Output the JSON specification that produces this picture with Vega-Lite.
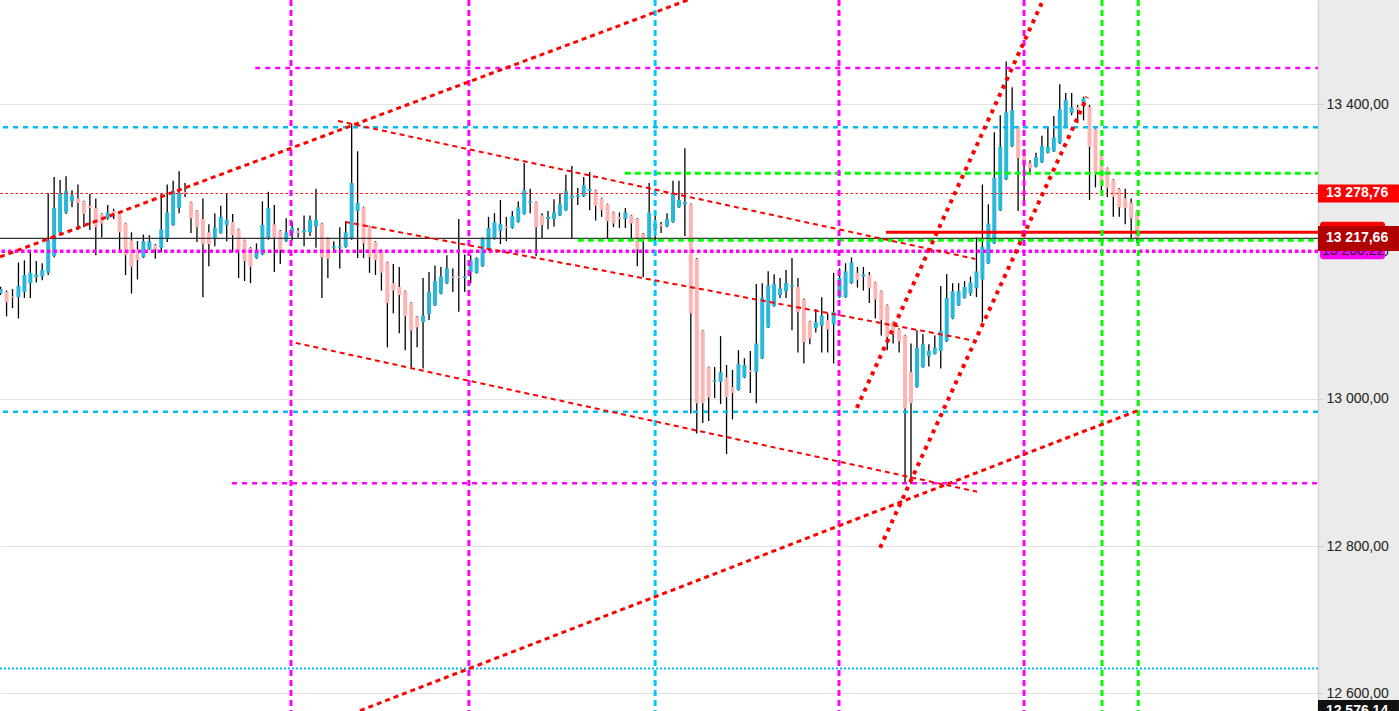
{
"$schema": "https://vega.github.io/schema/vega-lite/v6.json",
"width": 1318, "height": 711,
"autosize": {"type": "none"},
"padding": {"left": 0, "top": 0, "right": 81, "bottom": 0},
"background": "#ebebeb",
"config": {
 "view": {"stroke": null, "fill": "#ffffff"},
 "locale": {"number": {"decimal": ",", "thousands": " ", "grouping": [3], "currency": ["", ""]}},
 "axisY": {"grid": true, "gridColor": "#e2e2e2", "domainColor": "#d4d4d4", "domainWidth": 1.5, "tickColor": "#cfcfcf", "tickSize": 5,
           "labelFont": "Liberation Sans", "labelFontSize": 14, "labelColor": "#222222", "labelPadding": 3}
},
"datasets": {
"candles": [
{"i":0,"o":13143,"h":13152,"l":13141,"c":13149},
{"i":1,"o":13145,"h":13147,"l":13112,"c":13131},
{"i":2,"o":13139,"h":13149,"l":13123,"c":13137},
{"i":3,"o":13138,"h":13185,"l":13109,"c":13153},
{"i":4,"o":13145,"h":13188,"l":13137,"c":13168},
{"i":5,"o":13157,"h":13198,"l":13137,"c":13171},
{"i":6,"o":13165,"h":13187,"l":13158,"c":13169},
{"i":7,"o":13166,"h":13184,"l":13161,"c":13175},
{"i":8,"o":13171,"h":13279,"l":13168,"c":13215},
{"i":9,"o":13194,"h":13301,"l":13192,"c":13259},
{"i":10,"o":13226,"h":13297,"l":13224,"c":13279},
{"i":11,"o":13253,"h":13302,"l":13251,"c":13282},
{"i":12,"o":13268,"h":13283,"l":13260,"c":13276},
{"i":13,"o":13272,"h":13291,"l":13229,"c":13266},
{"i":14,"o":13268,"h":13269,"l":13233,"c":13251},
{"i":15,"o":13262,"h":13278,"l":13229,"c":13259},
{"i":16,"o":13259,"h":13272,"l":13195,"c":13233},
{"i":17,"o":13251,"h":13252,"l":13219,"c":13238},
{"i":18,"o":13245,"h":13263,"l":13243,"c":13253},
{"i":19,"o":13255,"h":13258,"l":13244,"c":13252},
{"i":20,"o":13252,"h":13253,"l":13202,"c":13226},
{"i":21,"o":13238,"h":13239,"l":13168,"c":13195},
{"i":22,"o":13215,"h":13226,"l":13143,"c":13179},
{"i":23,"o":13203,"h":13214,"l":13162,"c":13188},
{"i":24,"o":13192,"h":13223,"l":13191,"c":13214},
{"i":25,"o":13203,"h":13222,"l":13202,"c":13214},
{"i":26,"o":13209,"h":13210,"l":13190,"c":13203},
{"i":27,"o":13205,"h":13279,"l":13199,"c":13230},
{"i":28,"o":13218,"h":13291,"l":13213,"c":13253},
{"i":29,"o":13236,"h":13296,"l":13235,"c":13282},
{"i":30,"o":13259,"h":13309,"l":13252,"c":13279},
{"i":31,"o":13281,"h":13293,"l":13274,"c":13278},
{"i":32,"o":13267,"h":13268,"l":13225,"c":13245},
{"i":33,"o":13255,"h":13256,"l":13213,"c":13233},
{"i":34,"o":13244,"h":13272,"l":13138,"c":13210},
{"i":35,"o":13226,"h":13237,"l":13180,"c":13210},
{"i":36,"o":13217,"h":13252,"l":13207,"c":13232},
{"i":37,"o":13225,"h":13262,"l":13224,"c":13247},
{"i":38,"o":13236,"h":13279,"l":13214,"c":13243},
{"i":39,"o":13240,"h":13251,"l":13199,"c":13222},
{"i":40,"o":13230,"h":13231,"l":13164,"c":13202},
{"i":41,"o":13215,"h":13216,"l":13160,"c":13187},
{"i":42,"o":13205,"h":13206,"l":13157,"c":13179},
{"i":43,"o":13191,"h":13211,"l":13190,"c":13200},
{"i":44,"o":13196,"h":13268,"l":13195,"c":13236},
{"i":45,"o":13217,"h":13281,"l":13216,"c":13259},
{"i":46,"o":13237,"h":13263,"l":13172,"c":13219},
{"i":47,"o":13228,"h":13229,"l":13183,"c":13202},
{"i":48,"o":13214,"h":13245,"l":13213,"c":13226},
{"i":49,"o":13225,"h":13240,"l":13215,"c":13232},
{"i":50,"o":13228,"h":13232,"l":13219,"c":13225},
{"i":51,"o":13226,"h":13249,"l":13207,"c":13229},
{"i":52,"o":13226,"h":13249,"l":13221,"c":13243},
{"i":53,"o":13234,"h":13285,"l":13205,"c":13243},
{"i":54,"o":13238,"h":13239,"l":13137,"c":13192},
{"i":55,"o":13217,"h":13219,"l":13164,"c":13190},
{"i":56,"o":13205,"h":13214,"l":13198,"c":13207},
{"i":57,"o":13205,"h":13233,"l":13177,"c":13207},
{"i":58,"o":13206,"h":13241,"l":13205,"c":13226},
{"i":59,"o":13217,"h":13373,"l":13216,"c":13293},
{"i":60,"o":13255,"h":13336,"l":13191,"c":13266},
{"i":61,"o":13260,"h":13261,"l":13191,"c":13211},
{"i":62,"o":13234,"h":13235,"l":13171,"c":13192},
{"i":63,"o":13213,"h":13214,"l":13168,"c":13188},
{"i":64,"o":13202,"h":13203,"l":13147,"c":13171},
{"i":65,"o":13185,"h":13186,"l":13070,"c":13130},
{"i":66,"o":13157,"h":13183,"l":13116,"c":13147},
{"i":67,"o":13152,"h":13179,"l":13089,"c":13141},
{"i":68,"o":13146,"h":13147,"l":13066,"c":13112},
{"i":69,"o":13130,"h":13131,"l":13043,"c":13093},
{"i":70,"o":13111,"h":13112,"l":13070,"c":13097},
{"i":71,"o":13104,"h":13164,"l":13041,"c":13113},
{"i":72,"o":13115,"h":13172,"l":13107,"c":13145},
{"i":73,"o":13127,"h":13181,"l":13126,"c":13160},
{"i":74,"o":13143,"h":13179,"l":13142,"c":13166},
{"i":75,"o":13157,"h":13195,"l":13156,"c":13177},
{"i":76,"o":13166,"h":13177,"l":13145,"c":13164},
{"i":77,"o":13166,"h":13244,"l":13118,"c":13164},
{"i":78,"o":13164,"h":13196,"l":13145,"c":13166},
{"i":79,"o":13172,"h":13195,"l":13157,"c":13188},
{"i":80,"o":13171,"h":13192,"l":13170,"c":13191},
{"i":81,"o":13180,"h":13219,"l":13179,"c":13217},
{"i":82,"o":13202,"h":13247,"l":13201,"c":13232},
{"i":83,"o":13217,"h":13252,"l":13216,"c":13240},
{"i":84,"o":13228,"h":13270,"l":13210,"c":13237},
{"i":85,"o":13234,"h":13247,"l":13214,"c":13232},
{"i":86,"o":13232,"h":13255,"l":13231,"c":13248},
{"i":87,"o":13240,"h":13268,"l":13239,"c":13260},
{"i":88,"o":13251,"h":13320,"l":13250,"c":13283},
{"i":89,"o":13266,"h":13285,"l":13252,"c":13268},
{"i":90,"o":13267,"h":13268,"l":13194,"c":13233},
{"i":91,"o":13249,"h":13252,"l":13217,"c":13236},
{"i":92,"o":13244,"h":13255,"l":13230,"c":13247},
{"i":93,"o":13244,"h":13271,"l":13234,"c":13253},
{"i":94,"o":13249,"h":13279,"l":13248,"c":13264},
{"i":95,"o":13256,"h":13304,"l":13255,"c":13282},
{"i":96,"o":13272,"h":13316,"l":13218,"c":13276},
{"i":97,"o":13274,"h":13286,"l":13263,"c":13276},
{"i":98,"o":13275,"h":13301,"l":13274,"c":13290},
{"i":99,"o":13282,"h":13308,"l":13256,"c":13285},
{"i":100,"o":13283,"h":13284,"l":13242,"c":13262},
{"i":101,"o":13272,"h":13273,"l":13247,"c":13256},
{"i":102,"o":13264,"h":13265,"l":13217,"c":13241},
{"i":103,"o":13253,"h":13254,"l":13233,"c":13238},
{"i":104,"o":13247,"h":13253,"l":13232,"c":13244},
{"i":105,"o":13244,"h":13259,"l":13232,"c":13253},
{"i":106,"o":13249,"h":13250,"l":13218,"c":13238},
{"i":107,"o":13244,"h":13245,"l":13180,"c":13203},
{"i":108,"o":13224,"h":13225,"l":13165,"c":13215},
{"i":109,"o":13218,"h":13293,"l":13217,"c":13253},
{"i":110,"o":13230,"h":13252,"l":13215,"c":13238},
{"i":111,"o":13237,"h":13240,"l":13225,"c":13234},
{"i":112,"o":13234,"h":13252,"l":13233,"c":13244},
{"i":113,"o":13240,"h":13296,"l":13239,"c":13279},
{"i":114,"o":13260,"h":13296,"l":13259,"c":13270},
{"i":115,"o":13264,"h":13340,"l":13221,"c":13267},
{"i":116,"o":13264,"h":13265,"l":12980,"c":13116},
{"i":117,"o":13190,"h":13191,"l":12953,"c":12994},
{"i":118,"o":13092,"h":13093,"l":12967,"c":12994},
{"i":119,"o":13043,"h":13044,"l":12970,"c":13002},
{"i":120,"o":13023,"h":13043,"l":13001,"c":13025},
{"i":121,"o":13023,"h":13085,"l":12993,"c":13036},
{"i":122,"o":13029,"h":13046,"l":12925,"c":13002},
{"i":123,"o":13016,"h":13039,"l":12972,"c":13008},
{"i":124,"o":13012,"h":13066,"l":13011,"c":13047},
{"i":125,"o":13029,"h":13055,"l":13028,"c":13046},
{"i":126,"o":13039,"h":13065,"l":13008,"c":13036},
{"i":127,"o":13036,"h":13156,"l":12994,"c":13075},
{"i":128,"o":13055,"h":13157,"l":13054,"c":13137},
{"i":129,"o":13097,"h":13173,"l":13096,"c":13154},
{"i":130,"o":13126,"h":13169,"l":13125,"c":13156},
{"i":131,"o":13141,"h":13164,"l":13137,"c":13150},
{"i":132,"o":13146,"h":13175,"l":13137,"c":13157},
{"i":133,"o":13152,"h":13191,"l":13093,"c":13154},
{"i":134,"o":13152,"h":13164,"l":13063,"c":13118},
{"i":135,"o":13135,"h":13136,"l":13048,"c":13077},
{"i":136,"o":13105,"h":13106,"l":13074,"c":13082},
{"i":137,"o":13096,"h":13122,"l":13090,"c":13104},
{"i":138,"o":13099,"h":13138,"l":13063,"c":13113},
{"i":139,"o":13107,"h":13116,"l":13063,"c":13094},
{"i":140,"o":13101,"h":13171,"l":13048,"c":13118},
{"i":141,"o":13138,"h":13177,"l":13137,"c":13164},
{"i":142,"o":13138,"h":13184,"l":13137,"c":13173},
{"i":143,"o":13157,"h":13192,"l":13156,"c":13185},
{"i":144,"o":13171,"h":13179,"l":13151,"c":13161},
{"i":145,"o":13166,"h":13179,"l":13147,"c":13169},
{"i":146,"o":13168,"h":13172,"l":13130,"c":13150},
{"i":147,"o":13158,"h":13159,"l":13109,"c":13135},
{"i":148,"o":13146,"h":13147,"l":13086,"c":13107},
{"i":149,"o":13127,"h":13128,"l":13066,"c":13084},
{"i":150,"o":13104,"h":13105,"l":13075,"c":13088},
{"i":151,"o":13095,"h":13096,"l":13063,"c":13078},
{"i":152,"o":13086,"h":13087,"l":12884,"c":12987},
{"i":153,"o":13036,"h":13075,"l":12884,"c":12994},
{"i":154,"o":13016,"h":13093,"l":13015,"c":13069},
{"i":155,"o":13043,"h":13088,"l":13042,"c":13074},
{"i":156,"o":13058,"h":13074,"l":13044,"c":13065},
{"i":157,"o":13061,"h":13086,"l":13060,"c":13069},
{"i":158,"o":13065,"h":13153,"l":13041,"c":13092},
{"i":159,"o":13078,"h":13169,"l":13077,"c":13137},
{"i":160,"o":13109,"h":13157,"l":13108,"c":13146},
{"i":161,"o":13127,"h":13157,"l":13126,"c":13146},
{"i":162,"o":13137,"h":13160,"l":13136,"c":13152},
{"i":163,"o":13143,"h":13166,"l":13140,"c":13158},
{"i":164,"o":13150,"h":13219,"l":13138,"c":13173},
{"i":165,"o":13162,"h":13291,"l":13104,"c":13206},
{"i":166,"o":13184,"h":13264,"l":13183,"c":13238},
{"i":167,"o":13211,"h":13362,"l":13210,"c":13300},
{"i":168,"o":13256,"h":13385,"l":13255,"c":13342},
{"i":169,"o":13298,"h":13458,"l":13297,"c":13389},
{"i":170,"o":13343,"h":13423,"l":13342,"c":13392},
{"i":171,"o":13369,"h":13370,"l":13255,"c":13327},
{"i":172,"o":13338,"h":13339,"l":13267,"c":13317},
{"i":173,"o":13320,"h":13324,"l":13304,"c":13313},
{"i":174,"o":13315,"h":13334,"l":13314,"c":13328},
{"i":175,"o":13321,"h":13357,"l":13320,"c":13343},
{"i":176,"o":13334,"h":13370,"l":13333,"c":13342},
{"i":177,"o":13336,"h":13384,"l":13335,"c":13355},
{"i":178,"o":13347,"h":13427,"l":13346,"c":13393},
{"i":179,"o":13370,"h":13415,"l":13369,"c":13406},
{"i":180,"o":13388,"h":13415,"l":13385,"c":13396},
{"i":181,"o":13396,"h":13399,"l":13374,"c":13392},
{"i":182,"o":13401,"h":13410,"l":13378,"c":13408},
{"i":183,"o":13396,"h":13399,"l":13270,"c":13342},
{"i":184,"o":13366,"h":13367,"l":13287,"c":13308},
{"i":185,"o":13336,"h":13337,"l":13279,"c":13293},
{"i":186,"o":13313,"h":13314,"l":13274,"c":13286},
{"i":187,"o":13297,"h":13298,"l":13247,"c":13274},
{"i":188,"o":13285,"h":13286,"l":13247,"c":13260},
{"i":189,"o":13272,"h":13285,"l":13237,"c":13259},
{"i":190,"o":13266,"h":13272,"l":13217,"c":13245},
{"i":191,"o":13255,"h":13256,"l":13211,"c":13217.66}
]
},
"layer": [
{
 "data": {"values": [{"p": 12600}, {"p": 12800}, {"p": 13000}, {"p": 13200}, {"p": 13400}]},
 "mark": {"type": "rule", "strokeOpacity": 0},
 "encoding": {
  "y": {"field": "p", "type": "quantitative", "title": null,
        "scale": {"domain": [12576.14, 13541.4], "nice": false, "zero": false},
        "axis": {"orient": "right", "values": [12600, 12800, 13000, 13200, 13400], "format": ",.2f", "title": null}}
 }
},
{
 "data": {"name": "candles"},
 "mark": {"type": "rule", "color": "#000000", "strokeWidth": 1.3},
 "encoding": {
  "x": {"field": "i", "type": "quantitative", "scale": {"domain": [-0.1, 221.4], "nice": false, "zero": false, "padding": 0}, "axis": null},
  "y": {"field": "l", "type": "quantitative", "title": null},
  "y2": {"field": "h"}
 }
},
{
 "data": {"name": "candles"},
 "mark": {"type": "bar", "width": 4},
 "encoding": {
  "x": {"field": "i", "type": "quantitative", "axis": null},
  "y": {"field": "o", "type": "quantitative", "title": null},
  "y2": {"field": "c"},
  "color": {"condition": {"test": "datum.c >= datum.o", "value": "#2ab7d9"}, "value": "#ffb4b4"}
 }
},
{
 "data": {"values": [{"p": 13368.8}, {"p": 12982.3}]},
 "mark": {"type": "rule", "color": "#00bcf5", "strokeWidth": 2.5, "strokeDash": [5, 5]},
 "encoding": {"y": {"field": "p", "type": "quantitative", "title": null}}
},
{
 "data": {"values": [{"p": 12633.9}]},
 "mark": {"type": "rule", "color": "#00bcf5", "strokeWidth": 2, "strokeDash": [2, 2]},
 "encoding": {"y": {"field": "p", "type": "quantitative", "title": null}}
},
{
 "data": {"values": [{"p": 13449, "from": 42.8}, {"p": 12885.3, "from": 38.9}]},
 "mark": {"type": "rule", "color": "#ff00ff", "strokeWidth": 2.5, "strokeDash": [5, 5]},
 "encoding": {
  "y": {"field": "p", "type": "quantitative", "title": null},
  "x": {"field": "from", "type": "quantitative", "axis": null},
  "x2": {"datum": 221.4}
 }
},
{
 "data": {"values": [{"p": 13200.22}]},
 "mark": {"type": "rule", "color": "#ff00ff", "strokeWidth": 3.5, "strokeDash": [3.5, 3]},
 "encoding": {"y": {"field": "p", "type": "quantitative", "title": null}}
},
{
 "data": {"values": [{"p": 13278.76}]},
 "mark": {"type": "rule", "color": "#ff0000", "strokeWidth": 1, "strokeDash": [2.5, 2.5]},
 "encoding": {"y": {"field": "p", "type": "quantitative", "title": null}}
},
{
 "data": {"values": [{"p": 13217.66}]},
 "mark": {"type": "rule", "color": "#333333", "strokeWidth": 1.2},
 "encoding": {"y": {"field": "p", "type": "quantitative", "title": null}}
},
{
 "data": {"values": [{"p": 13226.2, "from": 148.8}]},
 "mark": {"type": "rule", "color": "#ff0000", "strokeWidth": 3},
 "encoding": {
  "y": {"field": "p", "type": "quantitative", "title": null},
  "x": {"field": "from", "type": "quantitative", "axis": null},
  "x2": {"datum": 221.4}
 }
},
{
 "data": {"values": [{"p": 13306.3, "from": 104.9}, {"p": 13215.3, "from": 97.0}]},
 "mark": {"type": "rule", "color": "#00ff00", "strokeWidth": 3, "strokeDash": [6, 4]},
 "encoding": {
  "y": {"field": "p", "type": "quantitative", "title": null},
  "x": {"field": "from", "type": "quantitative", "axis": null},
  "x2": {"datum": 221.4}
 }
},
{
 "data": {"values": [{"t": 48.8}, {"t": 78.7}, {"t": 140.9}, {"t": 172}]},
 "mark": {"type": "rule", "color": "#ff00ff", "strokeWidth": 3, "strokeDash": [6, 4]},
 "encoding": {"x": {"field": "t", "type": "quantitative", "axis": null}}
},
{
 "data": {"values": [{"t": 110}]},
 "mark": {"type": "rule", "color": "#00c8ff", "strokeWidth": 3, "strokeDash": [6, 4]},
 "encoding": {"x": {"field": "t", "type": "quantitative", "axis": null}}
},
{
 "data": {"values": [{"t": 185.1}, {"t": 191.2}]},
 "mark": {"type": "rule", "color": "#00ff00", "strokeWidth": 3, "strokeDash": [6, 4]},
 "encoding": {"x": {"field": "t", "type": "quantitative", "axis": null}}
},
{
 "data": {"values": [
   {"t1": 56.7, "p1": 13377.2, "t2": 163.8, "p2": 13189.9},
   {"t1": 57.9, "p1": 13240.1, "t2": 163.8, "p2": 13078.7},
   {"t1": 49.6, "p1": 13075.9, "t2": 164.1, "p2": 12873.8}
 ]},
 "mark": {"type": "rule", "color": "#ff0000", "strokeWidth": 2, "strokeDash": [5, 4]},
 "encoding": {
  "x": {"field": "t1", "type": "quantitative", "axis": null},
  "y": {"field": "p1", "type": "quantitative", "title": null},
  "x2": {"field": "t2"},
  "y2": {"field": "p2"}
 }
},
{
 "data": {"values": [
   {"t1": -0.1, "p1": 13192.6, "t2": 115.5, "p2": 13541.4},
   {"t1": 60.4, "p1": 12576.6, "t2": 191.0, "p2": 12983.7}
 ]},
 "mark": {"type": "rule", "color": "#ff0000", "strokeWidth": 3, "strokeDash": [5, 4]},
 "encoding": {
  "x": {"field": "t1", "type": "quantitative", "axis": null},
  "y": {"field": "p1", "type": "quantitative", "title": null},
  "x2": {"field": "t2"},
  "y2": {"field": "p2"}
 }
},
{
 "data": {"values": [
   {"t1": 143.9, "p1": 12987.7, "t2": 175.2, "p2": 13541.4},
   {"t1": 147.8, "p1": 12797.8, "t2": 182.6, "p2": 13409.8}
 ]},
 "mark": {"type": "rule", "color": "#ff0000", "strokeWidth": 4, "strokeDash": [4, 5]},
 "encoding": {
  "x": {"field": "t1", "type": "quantitative", "axis": null},
  "y": {"field": "p1", "type": "quantitative", "title": null},
  "x2": {"field": "t2"},
  "y2": {"field": "p2"}
 }
},
{
 "data": {"values": [{"p": 13200.22}]},
 "mark": {"type": "tick", "orient": "horizontal", "size": 65, "thickness": 16, "color": "#ff00ff", "opacity": 1, "cornerRadius": 3},
 "encoding": {"x": {"datum": 227.2, "axis": null}, "y": {"field": "p", "type": "quantitative", "title": null}}
},
{
 "data": {"values": [{"p": 13200.22}]},
 "mark": {"type": "text", "font": "Liberation Sans", "fontSize": 14, "color": "#222222", "align": "center", "baseline": "middle"},
 "encoding": {"x": {"datum": 227.3, "axis": null}, "y": {"field": "p", "type": "quantitative", "title": null}, "text": {"field": "p", "type": "quantitative", "format": ",.2f"}}
},
{
 "data": {"values": [{"p": 13226.2}]},
 "mark": {"type": "tick", "orient": "horizontal", "size": 65, "thickness": 21, "color": "#ff0000", "opacity": 1, "cornerRadius": 3},
 "encoding": {"x": {"datum": 227.2, "axis": null}, "y": {"field": "p", "type": "quantitative", "title": null}}
},
{
 "data": {"values": [{"p": 13217.66}]},
 "mark": {"type": "tick", "orient": "horizontal", "size": 81, "thickness": 25, "color": "#b00000", "opacity": 1},
 "encoding": {"x": {"datum": 228.2, "axis": null}, "y": {"field": "p", "type": "quantitative", "title": null}}
},
{
 "data": {"values": [{"p": 13278.76}]},
 "mark": {"type": "tick", "orient": "horizontal", "size": 81, "thickness": 18, "color": "#ff0000", "opacity": 1},
 "encoding": {"x": {"datum": 228.2, "axis": null}, "y": {"field": "p", "type": "quantitative", "title": null}}
},
{
 "data": {"values": [{"p": 12576.14}]},
 "mark": {"type": "tick", "orient": "horizontal", "size": 81, "thickness": 22, "color": "#111111", "opacity": 1},
 "encoding": {"x": {"datum": 228.2, "axis": null}, "y": {"field": "p", "type": "quantitative", "title": null}}
},
{
 "data": {"values": [{"p": 13217.66}, {"p": 13278.76}, {"p": 12576.14}]},
 "mark": {"type": "text", "font": "Liberation Sans", "fontSize": 14, "fontWeight": "bold", "color": "#ffffff", "align": "center", "baseline": "middle"},
 "encoding": {"x": {"datum": 227.96, "axis": null}, "y": {"field": "p", "type": "quantitative", "title": null}, "text": {"field": "p", "type": "quantitative", "format": ",.2f"}}
}
]
}
